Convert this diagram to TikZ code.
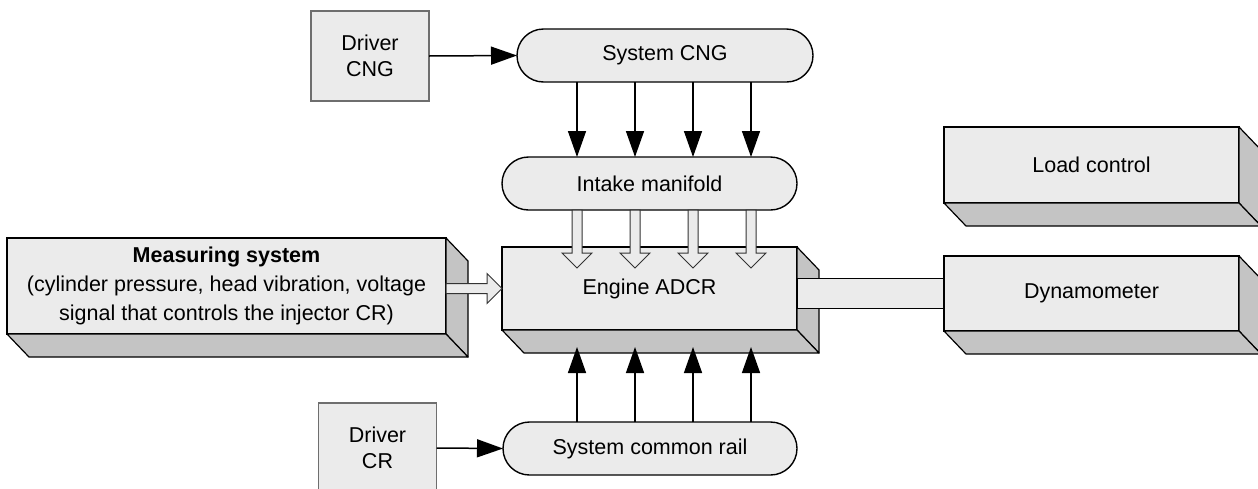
\documentclass[tikz,border=0pt]{standalone}
\usepackage{fontspec}
\setmainfont{Liberation Sans}
\usetikzlibrary{shapes.misc,arrows.meta,calc}
\definecolor{facegray}{HTML}{EBEBEB}
\definecolor{sidegray}{HTML}{C4C4C4}
\definecolor{drvline}{HTML}{6E6E6E}
\begin{document}
\begin{tikzpicture}[
          x=1pt, y=-1pt,
          txt/.style = {font=\fontsize{21.5pt}{26pt}\selectfont, align=center, inner sep=0pt, outer sep=0pt},
          drv-box/.style = {txt, draw=drvline, line width=1.1pt, fill=facegray, rectangle, minimum width=118pt, minimum height=90pt},
          pill/.style = {txt, draw, line width=1.4pt, fill=facegray, rounded rectangle, minimum height=53pt},
          slab/.style = {txt, draw, line width=1.2pt, fill=facegray, rectangle},
          depth/.style = {draw, line width=1.2pt, fill=sidegray, line join=round},
          hollow/.style = {draw=black!80, line width=1pt, fill=facegray},
          arr/.style = {line width=1.5pt, -{Triangle[length=26pt,width=18pt]}}
        ]
          \useasboundingbox (0,0) rectangle (1258,488);

          \node[drv-box] (drvcng) at (370,56) {Driver\\CNG};
          \node[drv-box] (drvcr) at (377.5,448) {Driver\\CR};
          \node[pill,minimum width=296pt] (cng) at (665,55.5) {System CNG};
          \node[pill,minimum width=295pt] (intake) at (649.5,183.5) {Intake manifold};
          \node[pill,minimum width=294pt] (rail) at (650,448.5) {System common rail};

          \node[slab,minimum width=295pt,minimum height=83pt] (engine) at (649.5,288.5) {Engine ADCR};
          \node[slab,minimum width=439pt,minimum height=96pt,font=\fontsize{21.5pt}{29pt}\selectfont] (meas) at (226.5,286)
            {\textbf{Measuring system}\\(cylinder pressure, head vibration, voltage\\signal that controls the injector CR)};
          \node[slab,minimum width=295pt,minimum height=76pt] (load) at (1091.5,165) {Load control};
          \node[slab,minimum width=295pt,minimum height=75pt] (dyno) at (1091.5,293.5) {Dynamometer};

          % depth faces of the blocks
          \foreach \n in {engine,meas,load,dyno} {
            \filldraw[depth] (\n.north east) -- ++(22,23) -- ($(\n.south east)+(22,23)$) -- (\n.south east) -- cycle;
            \filldraw[depth] (\n.south west) -- ++(22,23) -- ($(\n.south east)+(22,23)$) -- (\n.south east) -- cycle;
          }

          \foreach \i/\x in {1/577,2/635,3/693,4/751}
            \coordinate (h\i) at (\x,0);

          \draw[arr] (drvcng.east) -- (cng.west);
          \draw[arr] (drvcr.east) -- (rail.west);
          \foreach \i in {1,...,4} {
            \draw[arr] (cng.south -| h\i) -- (intake.north -| h\i);
            \draw[arr] (rail.north -| h\i) -- ($(engine.south -| h\i)+(0,17)$);
            \filldraw[hollow] (intake.south -| h\i) ++(-5,0) -- ++(0,43) -- ++(-10,0) -- ++(15,15) -- ++(15,-15) -- ++(-10,0) -- ++(0,-43) -- cycle;
          }

          \filldraw[hollow] (meas.east |- engine.west) ++(0,-5) -- ++(41,0) -- ++(0,-10) -- (engine.west) -- ++(-15,15) -- ++(0,-10) -- ++(-41,0) -- cycle;
          \filldraw[slab] (engine.east |- dyno.west) ++(0,-15) rectangle ($(dyno.west)+(0,15)$);
        \end{tikzpicture}
\end{document}
